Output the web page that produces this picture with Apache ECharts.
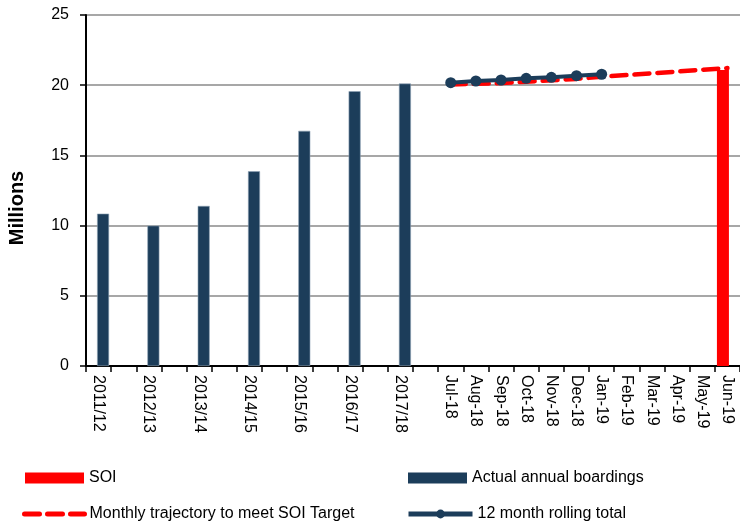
<!DOCTYPE html>
<html>
<head>
<meta charset="utf-8">
<script src="https://cdn.jsdelivr.net/npm/echarts@6/dist/echarts.min.js"></script>
<style>
  html, body { margin: 0; padding: 0; background: #fff; }
  #chart { width: 740px; height: 525px; }
</style>
</head>
<body>
<div id="chart"></div>
<script>
// annual figures (millions)
const years = ["2011/12", "2012/13", "2013/14", "2014/15", "2015/16", "2016/17", "2017/18"];
const annualBoardings = [10.85, 10.0, 11.4, 13.87, 16.75, 19.57, 20.12];

// monthly figures
const months = ["Jul-18", "Aug-18", "Sep-18", "Oct-18", "Nov-18", "Dec-18",
  "Jan-19", "Feb-19", "Mar-19", "Apr-19", "May-19", "Jun-19"];
const trajectory = [20.05, 20.1, 20.15, 20.25, 20.35, 20.45, 20.6, 20.72, 20.85, 20.97, 21.1, 21.22];
const rolling = [20.18, 20.3, 20.37, 20.49, 20.56, 20.68, 20.78];
const soiTarget = 21.08;

const yTicks = [0, 5, 10, 15, 20, 25];

const navy = "#1c3d5a";
const red = "#ff0000";

// annual years sit on every second slot, blank slot after each
let categories = [];
let annualData = [];
years.forEach((y, i) => {
  categories.push(y, "");
  annualData.push(annualBoardings[i], null);
});
const offset = categories.length;
categories = categories.concat(months);
annualData = annualData.concat(months.map(() => null));

const soiData = categories.map((c, i) => (i === categories.length - 1 ? soiTarget : null));
const trajData = categories.map((c, i) => (i >= offset ? trajectory[i - offset] : null));
const rollData = categories.map((c, i) =>
  (i >= offset && i - offset < rolling.length ? rolling[i - offset] : null));

const chart = echarts.init(document.getElementById("chart"));
const font = "'Liberation Sans', sans-serif";
const legendText = {fontFamily: font, fontSize: 16, color: "#000"};

chart.setOption({
  animation: false,
  grid: {left: 86, right: 0, top: 15, bottom: 159},
  graphic: [{
    type: "text",
    x: 17, y: 208,
    rotation: Math.PI / 2,
    style: {
      text: "Millions", fontFamily: font, fontSize: 20, fontWeight: "bold",
      fill: "#000", align: "center", verticalAlign: "middle"
    }
  }],
  legend: [{
    left: 20, top: 465, itemWidth: 59, itemHeight: 11, textStyle: legendText,
    data: [{name: "SOI", icon: "rect"}]
  }, {
    left: 403, top: 465, itemWidth: 59, itemHeight: 11, textStyle: legendText,
    itemStyle: {borderWidth: 0},
    data: [{name: "Actual annual boardings", icon: "rect"}]
  }, {
    left: 17, top: 501, itemWidth: 60, itemHeight: 11, textStyle: legendText,
    lineStyle: {width: 5},
    data: [{name: "Monthly trajectory to meet SOI Target", itemStyle: {opacity: 0}}]
  }, {
    left: 401, top: 501, itemWidth: 64, itemHeight: 11, textStyle: legendText,
    lineStyle: {width: 5},
    data: ["12 month rolling total"]
  }],
  xAxis: {
    type: "category",
    data: categories,
    axisLine: {lineStyle: {color: "#000", width: 2}},
    axisTick: {show: true, interval: 0, length: 6, lineStyle: {color: "#000", width: 1.5}},
    axisLabel: {
      interval: 0, rotate: -90, margin: 9,
      fontFamily: font, fontSize: 16, color: "#000"
    },
    splitLine: {show: false}
  },
  yAxis: {
    type: "value",
    min: 0, max: yTicks[yTicks.length - 1], interval: 5,
    axisLine: {show: true, lineStyle: {color: "#000", width: 2}},
    axisTick: {show: true, length: 6, lineStyle: {color: "#000", width: 1.5}},
    axisLabel: {margin: 17, fontFamily: font, fontSize: 16, color: "#000"},
    splitLine: {lineStyle: {color: "#8a8a8a", width: 1.5}}
  },
  series: [{
    name: "SOI",
    type: "bar",
    data: soiData,
    barWidth: 12,
    barGap: "-25%",
    z: 5,
    itemStyle: {color: red}
  }, {
    name: "Actual annual boardings",
    type: "bar",
    data: annualData,
    barWidth: 12,
    barGap: "-25%",
    itemStyle: {color: navy, borderColor: "#8fa3b5", borderWidth: 0.6}
  }, {
    name: "Monthly trajectory to meet SOI Target",
    type: "line",
    data: trajData,
    symbol: "none",
    z: 3,
    lineStyle: {color: red, width: 4.5, type: [15, 8], cap: "round"},
    itemStyle: {color: red}
  }, {
    name: "12 month rolling total",
    type: "line",
    data: rollData,
    symbol: "circle",
    symbolSize: 11,
    z: 4,
    lineStyle: {color: navy, width: 4},
    itemStyle: {color: navy}
  }]
});
</script>
</body>
</html>
